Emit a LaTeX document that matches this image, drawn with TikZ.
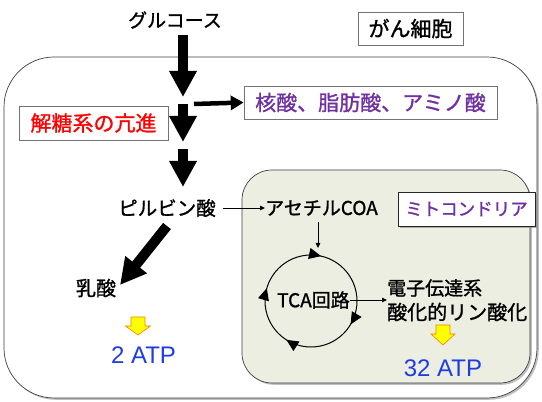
\documentclass[tikz,border=0pt]{standalone}
\usepackage{fontspec}
\setmainfont{Noto Sans CJK JP}[UprightFeatures={FakeBold=1.2}]
\newfontfamily\latinfont{Liberation Sans}
\usetikzlibrary{arrows.meta,shadows,decorations.markings}
\definecolor{mypurple}{RGB}{112,48,160}
\definecolor{myblue}{RGB}{30,60,230}
\definecolor{mitofill}{RGB}{235,238,224}
\definecolor{yarrow}{RGB}{255,255,0}
\definecolor{yedge}{RGB}{240,130,0}
\tikzset{
  txt/.style={inner sep=0pt, anchor=center},
  lbox/.style={draw=black!55, line width=0.6pt, fill=white, inner sep=0pt, minimum height=33pt},
  bigarrow/.style={line width=10pt, -{Triangle[length=26pt,width=26pt]}},
  thinarrow/.style={line width=0.8pt, -{Triangle[length=5pt,width=4.5pt]}},
  atp/.style={txt, text=myblue, font=\latinfont\fontsize{24}{24}\selectfont},
  yarr/.style={fill=yarrow, draw=yedge, line width=0.6pt, line join=miter},
}
\begin{document}
\begin{tikzpicture}[x=1pt,y=1pt]
\useasboundingbox (0,0) rectangle (542,402);
\fill[white] (0,0) rectangle (542,402);
% outer cell
\draw[draw=black!75, line width=0.7pt, rounded corners=50pt, fill=white,
  drop shadow={shadow xshift=1.8pt, shadow yshift=-1.8pt, opacity=0.5}]
  (4,4) rectangle (537,345);
% mitochondria
\draw[draw=black!75, line width=0.7pt, rounded corners=30pt, fill=mitofill,
  drop shadow={shadow xshift=1.8pt, shadow yshift=-1.8pt, opacity=0.5}]
  (242,19) rectangle (530,232);

% texts
\node[txt, font=\fontsize{19}{19}\selectfont] (glc) at (175,382) {グルコース};
\node[lbox, minimum width=105pt, draw=black!55, font=\fontsize{21}{21}\selectfont] (cell) at (410.5,373.5) {がん細胞};
\node[lbox, minimum width=253pt, text=mypurple, font=\fontsize{21}{21}\selectfont] (bio) at (370.5,299.5) {核酸、脂肪酸、アミノ酸};
\node[lbox, minimum width=149pt, minimum height=34pt, text=red, font=\fontsize{21}{21}\selectfont] (gly) at (93.5,279) {解糖系の亢進};
\node[txt, font=\fontsize{19.5}{19.5}\selectfont] (pyr) at (167,194) {ピルビン酸};
\node[txt, font=\fontsize{19}{19}\selectfont] (acoa) at (321.5,194) {アセチルCOA};
\node[draw=black!85, line width=0.9pt, fill=white, inner sep=0pt, minimum width=137pt, minimum height=34pt,
  text=mypurple, font=\fontsize{17.5}{17.5}\selectfont,
  drop shadow={shadow xshift=2pt, shadow yshift=-2pt, opacity=0.6}] (mito) at (466.5,193) {ミトコンドリア};
\node[txt, font=\fontsize{19}{19}\selectfont] (tca) at (313.5,102) {TCA回路};
\node[txt, anchor=west, font=\fontsize{19}{19}\selectfont] (etc) at (387,114) {電子伝達系};
\node[txt, anchor=west, font=\fontsize{20}{20}\selectfont] (oxp) at (387,90) {酸化的リン酸化};
\node[txt, font=\fontsize{20}{20}\selectfont] (lac) at (96,114) {乳酸};
\node[atp] (atp2) at (143.5,47) {2 ATP};
\node[atp] (atp32) at (443,34) {32 ATP};

% coordinates
\coordinate (a1s) at (183,367);
\coordinate (a1e) at (183,305);
\coordinate (a2s) at (183,298);
\coordinate (a2e) at (183,260);
\coordinate (a3s) at (183,253);
\coordinate (a3e) at (183,215);
\coordinate (hs) at (194,298);
\coordinate (ds) at (167,176);
\coordinate (de) at (120,117);
\coordinate (tc) at (311,101);

% big arrows
\draw[bigarrow] (a1s) -- (a1e);
\draw[bigarrow] (a2s) -- (a2e);
\draw[bigarrow] (a3s) -- (a3e);
\draw[line width=4.5pt, -{Triangle[length=13pt,width=14pt]}] (hs) -- (bio.west);
\draw[bigarrow] (ds) -- (de);

% thin arrows
\draw[thinarrow] (223,194) -- (acoa.west);
\draw[thinarrow] (acoa.south -| 318,0) ++(0,-6) -- (318,154);
\draw[thinarrow] (tca.east) -- (etc.west |- tca.east);

% TCA cycle
\draw[line width=1pt, postaction={decorate}, decoration={markings,
   mark=at position 0.035 with {\arrow{Triangle[length=12pt,width=11pt]}},
   mark=at position 0.335 with {\arrow{Triangle[length=12pt,width=11pt]}},
   mark=at position 0.59 with {\arrow{Triangle[length=12pt,width=11pt]}},
   mark=at position 0.795 with {\arrow{Triangle[length=12pt,width=11pt]}}}]
  (tc) ++(90:46) arc[start angle=90, end angle=-270, radius=46];

% yellow arrows
\draw[yarr] (131,85) -- (145,85) -- (145,76) -- (150.5,76) -- (138,67) -- (125.5,76) -- (131,76) -- cycle;
\draw[yarr] (436,77) -- (450,77) -- (450,68) -- (455,68) -- (443,57) -- (431,68) -- (436,68) -- cycle;
\end{tikzpicture}
\end{document}
